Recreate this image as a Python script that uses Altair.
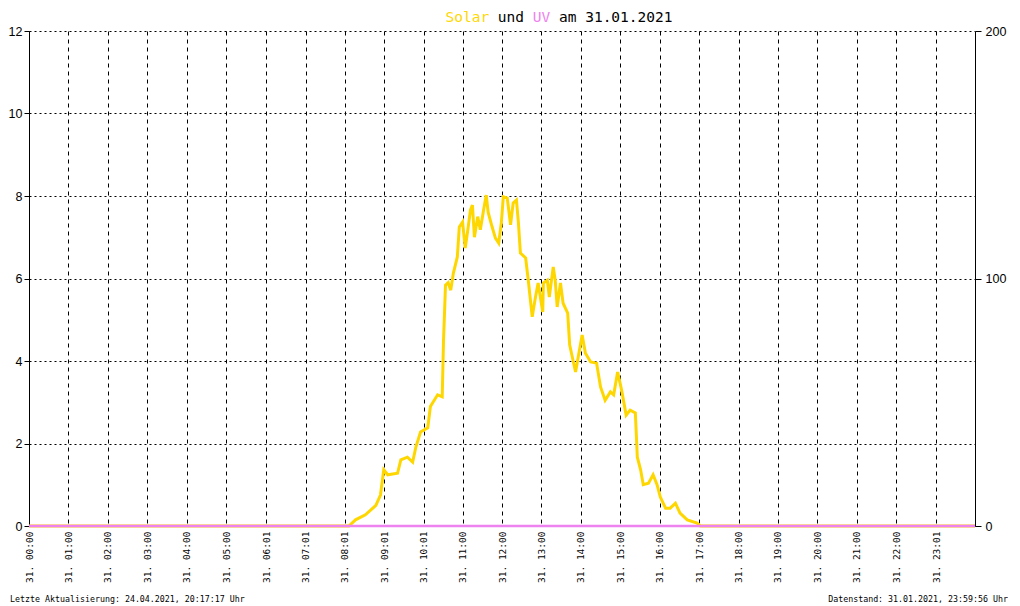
import altair as alt
import pandas as pd

# ---- data ----
solar_times = ["00:00", "08:07", "08:17", "08:32", "08:48", "08:55", "09:00", "09:06", "09:21",
               "09:26", "09:36", "09:44", "09:49", "09:56", "10:07", "10:11", "10:22", "10:29",
               "10:31", "10:34", "10:38", "10:42", "10:46", "10:52", "10:55", "11:00", "11:04",
               "11:08", "11:12", "11:15", "11:18", "11:23", "11:27", "11:32", "11:36", "11:39",
               "11:45", "11:50", "11:55", "11:59", "12:02", "12:08", "12:13", "12:17", "12:22",
               "12:25", "12:28", "12:36", "12:40", "12:46", "12:51", "12:55", "13:02", "13:03",
               "13:09", "13:12", "13:18", "13:21", "13:24", "13:29", "13:33", "13:40", "13:43",
               "13:47", "13:52", "13:56", "14:02", "14:07", "14:15", "14:24", "14:30", "14:37",
               "14:45", "14:50", "14:56", "15:02", "15:09", "15:15", "15:23", "15:26", "15:31",
               "15:35", "15:43", "15:50", "15:56", "16:01", "16:09", "16:16", "16:24", "16:31",
               "16:42", "16:57", "17:02", "24:00"]
solar_values = [0, 0, 2.5, 4.5, 8.3, 12.5, 22.7, 20.7, 21.3,
                26.7, 27.8, 25.8, 32.0, 38.0, 39.7, 48.3, 53.0, 52.2,
                75.0, 97.3, 98.3, 95.3, 102.2, 108.7, 120.8, 122.8, 112.3,
                119.7, 127.7, 129.7, 116.7, 125.0, 119.7, 127.7, 133.7, 126.7,
                120.8, 116.3, 114.3, 122.5, 133.0, 132.5, 121.7, 130.5, 131.7,
                122.5, 110.3, 108.3, 99.3, 84.5, 92.5, 98.2, 86.5, 98.2,
                99.3, 92.5, 104.7, 99.3, 88.5, 98.2, 90.0, 86.0, 73.2,
                68.3, 62.2, 68.3, 77.2, 69.8, 66.3, 65.8, 56.2, 50.8,
                54.2, 53.0, 62.2, 55.0, 44.8, 46.8, 45.7, 27.8, 22.7,
                16.7, 17.3, 20.7, 16.7, 11.7, 7.2, 7.2, 9.2, 5.2,
                2.5, 1.2, 0, 0]
uv_times = ["00:00", "24:00"]
uv_values = [0, 0]
x_tick_labels = ["00:00", "01:00", "02:00", "03:00", "04:00", "05:00", "06:01", "07:01",
                 "08:01", "09:01", "10:01", "11:00", "12:00", "13:00", "14:00", "15:00",
                 "16:00", "17:00", "18:00", "19:00", "20:00", "21:00", "22:00", "23:01"]
uv_ticks = [0, 2, 4, 6, 8, 10, 12]
solar_ticks = [0, 100, 200]

title_parts = ["Solar", "und", "UV", "am 31.01.2021"]
title_colors = ["#FFD700", "black", "#EE82EE", "black"]
title_char_offsets = [0, 6, 10, 13]
footer_left = "Letzte Aktualisierung: 24.04.2021, 20:17:17 Uhr"
footer_right = "Datenstand: 31.01.2021, 23:59:56 Uhr"


def to_hours(s):
    h, m = s.split(":")
    return int(h) + int(m) / 60.0


solar_df = pd.DataFrame({"t": [to_hours(s) for s in solar_times], "solar": solar_values})
uv_df = pd.DataFrame({"t": [to_hours(s) for s in uv_times], "uv": uv_values})
x_ticks = [to_hours(s) for s in x_tick_labels]

W, H = 946, 495
MONO = "DejaVu Sans Mono"
SANS = "Liberation Sans"

label_expr = (
    "'31. ' + (floor(datum.value) < 10 ? '0' : '') + floor(datum.value) + ':' + "
    "(round((datum.value - floor(datum.value)) * 60) < 10 ? '0' : '') + "
    "round((datum.value - floor(datum.value)) * 60)"
)

x_scale = alt.Scale(domain=[0, 24], nice=False, zero=False)
x_axis = alt.Axis(values=x_ticks, labelExpr=label_expr, labelAngle=270, labelFont=MONO,
                  labelFontSize=9.5, labelColor="black", labelPadding=5, grid=True,
                  gridColor="black", gridDash=[4, 4], gridWidth=1, gridOpacity=1,
                  domain=False, ticks=False, title=None, labelOverlap=False)

solar_line = alt.Chart(solar_df).mark_line(color="#FFD700", strokeWidth=3).encode(
    x=alt.X("t:Q", scale=x_scale, axis=x_axis),
    y=alt.Y("solar:Q", scale=alt.Scale(domain=[0, 200], nice=False),
            axis=alt.Axis(orient="right", values=solar_ticks, grid=False, domainColor="black",
                          tickColor="black", tickSize=6, labelFont=SANS, labelFontSize=12.5,
                          labelColor="black", labelPadding=4, title=None)),
)

uv_line = alt.Chart(uv_df).mark_line(color="#EE82EE", strokeWidth=2.5).encode(
    x=alt.X("t:Q", scale=x_scale, axis=x_axis),
    y=alt.Y("uv:Q", scale=alt.Scale(domain=[0, 12], nice=False),
            axis=alt.Axis(orient="left", values=uv_ticks, grid=True, gridColor="black",
                          gridDash=[2, 3], gridOpacity=1, gridWidth=1, domainColor="black",
                          tickColor="black", tickSize=5, labelFont=SANS, labelFontSize=12.5,
                          labelColor="black", labelPadding=2, title=None)),
)

TITLE_SIZE = 14.5
CW = 0.602 * TITLE_SIZE
title_layers = []
for part, col, off in zip(title_parts, title_colors, title_char_offsets):
    title_layers.append(
        alt.Chart(pd.DataFrame({"txt": [part]})).mark_text(
            font=MONO, fontSize=TITLE_SIZE, color=col, align="left", baseline="alphabetic"
        ).encode(text="txt:N", x=alt.value(416.5 + off * CW), y=alt.value(-9))
    )

foot_l = alt.Chart(pd.DataFrame({"txt": [footer_left]})).mark_text(
    font=MONO, fontSize=8.3, color="black", align="left", baseline="alphabetic"
).encode(text="txt:N", x=alt.value(-19), y=alt.value(571))

foot_r = alt.Chart(pd.DataFrame({"txt": [footer_right]})).mark_text(
    font=MONO, fontSize=8.3, color="black", align="right", baseline="alphabetic"
).encode(text="txt:N", x=alt.value(979), y=alt.value(571))

chart = alt.layer(solar_line, uv_line, *title_layers, foot_l, foot_r).resolve_scale(
    y="independent"
).properties(
    width=W, height=H,
    autosize=alt.AutoSizeParams(type="none"),
    padding={"left": 21, "top": 23, "right": 33, "bottom": 80},
    background="white",
).configure_view(strokeWidth=0)

chart.save("out.html", embed_options={"renderer": "svg", "actions": False})
